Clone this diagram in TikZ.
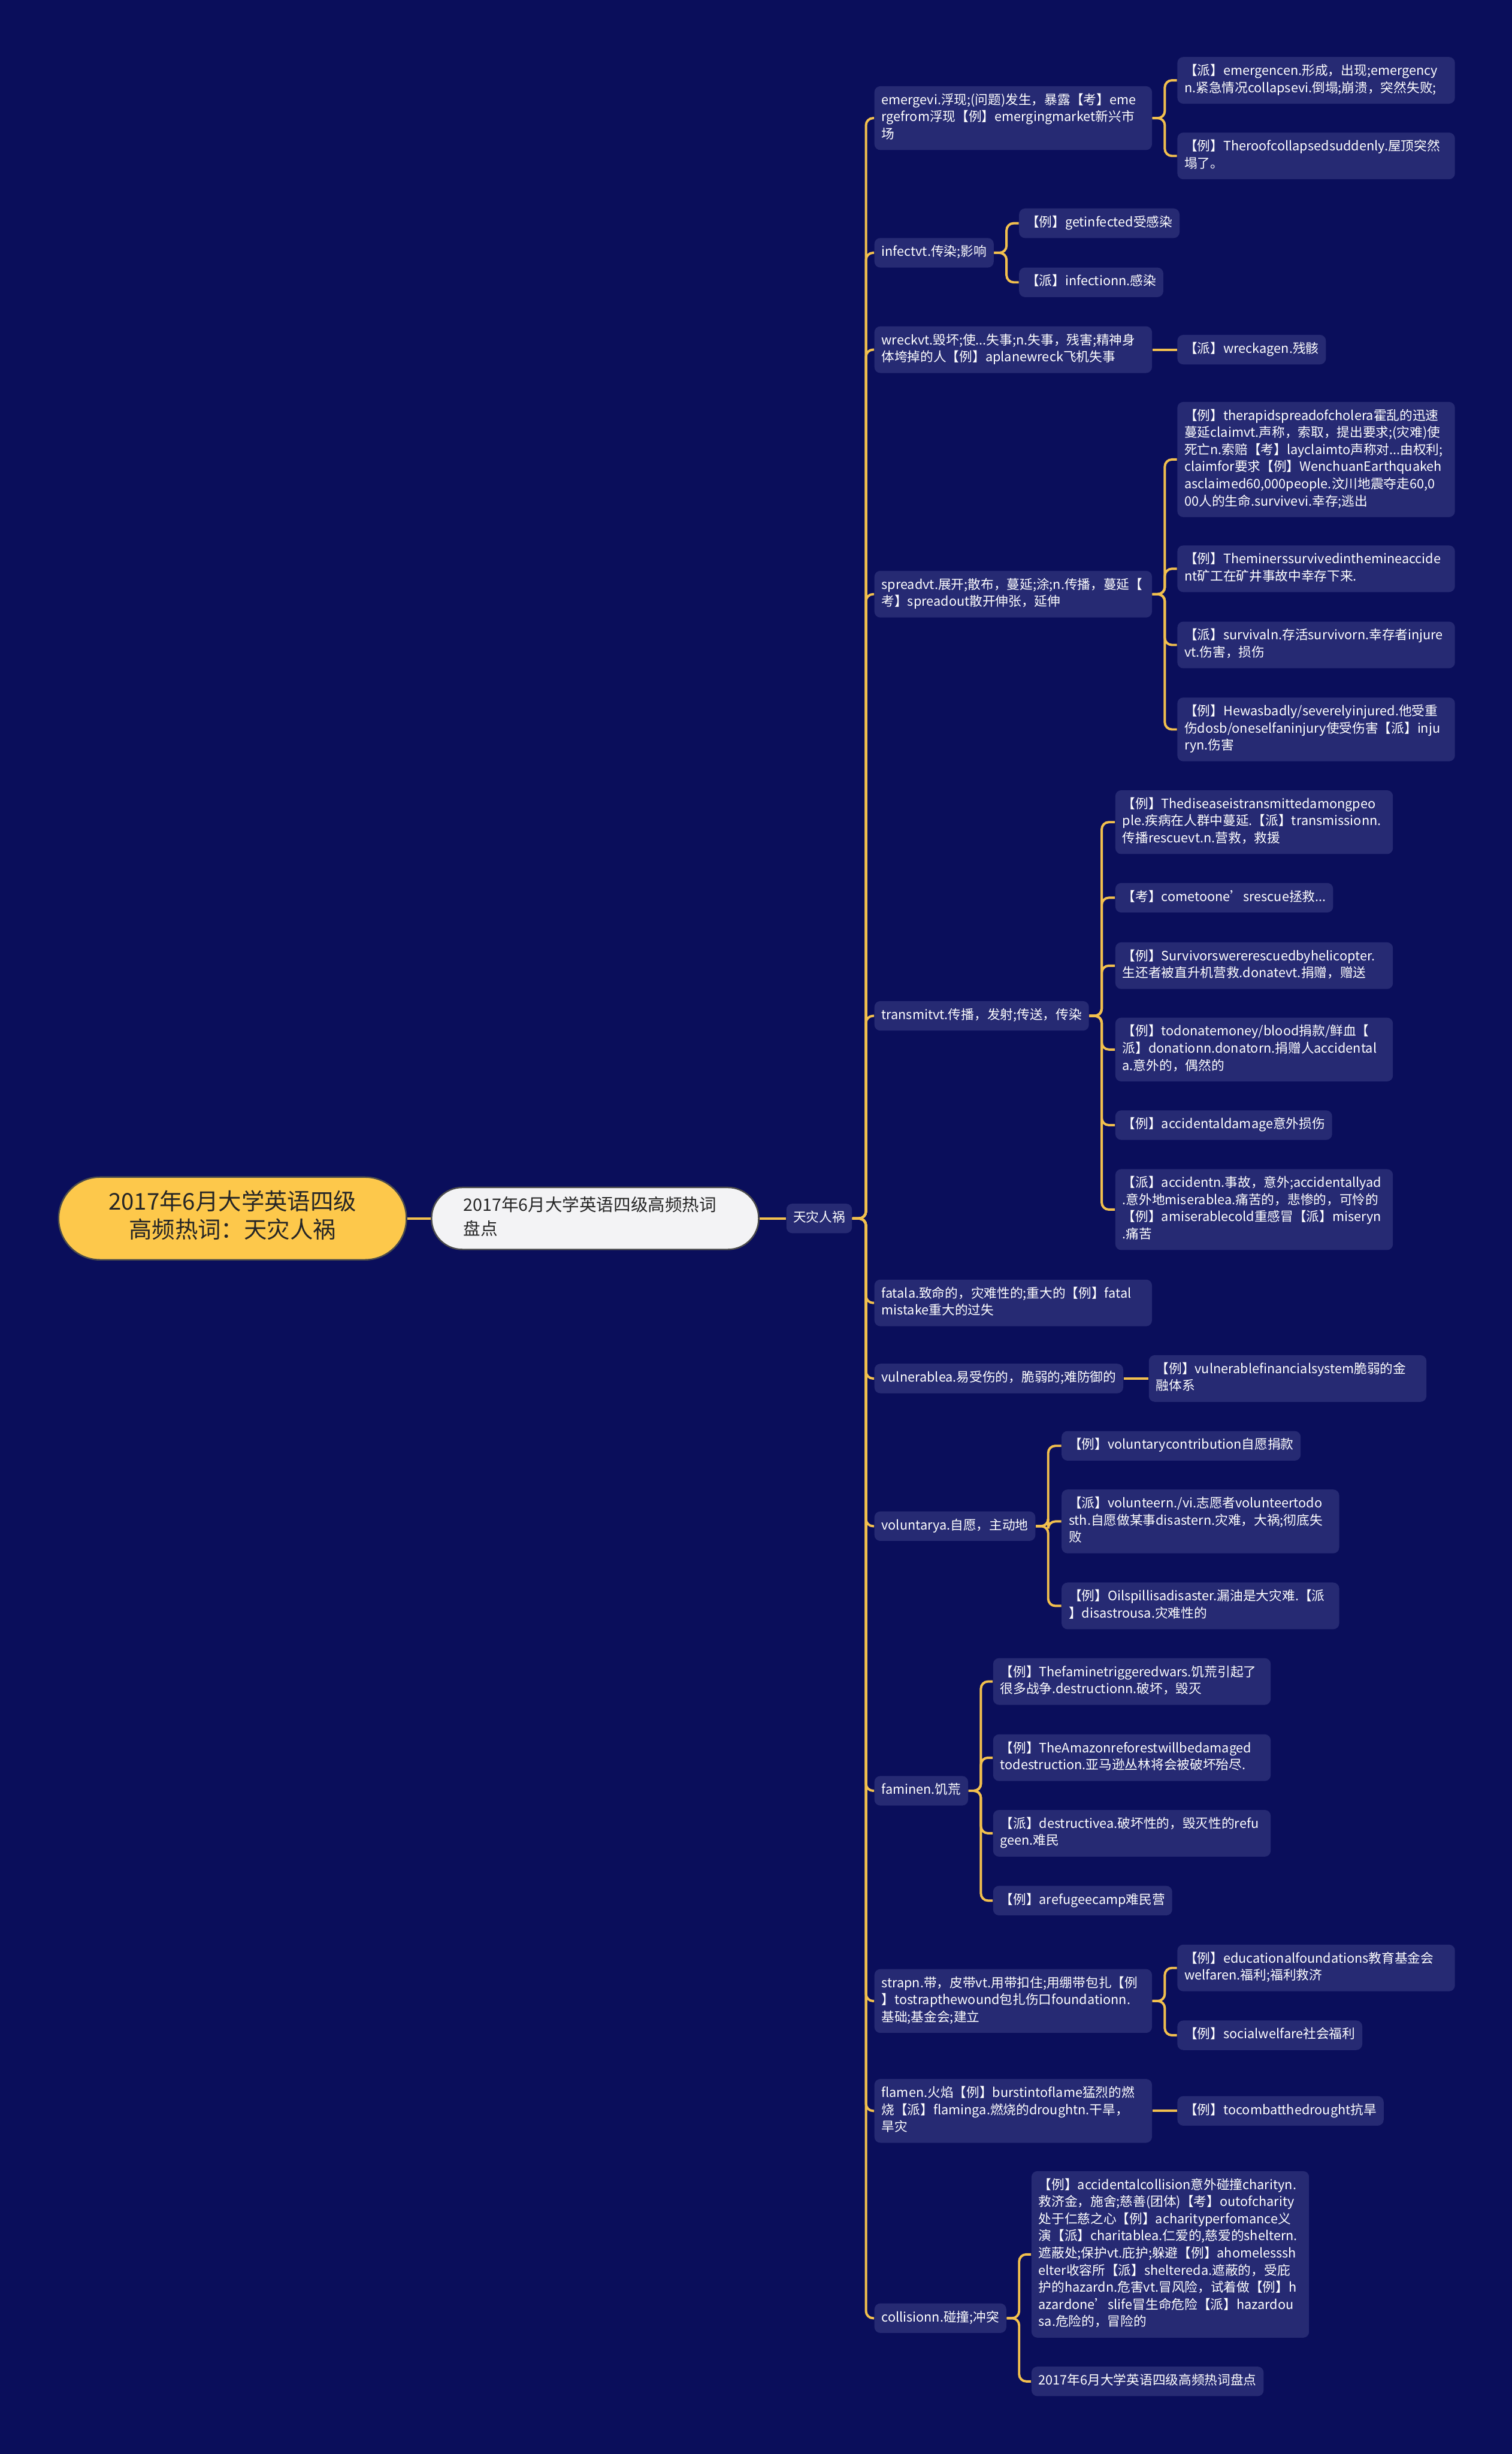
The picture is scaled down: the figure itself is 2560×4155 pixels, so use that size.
\documentclass[tikz,border=0pt]{standalone}
\usepackage{fontspec}
\setmainfont{Noto Sans CJK SC}
\usetikzlibrary{positioning}
\definecolor{bgnavy}{HTML}{0A0E5B}
\definecolor{boxnavy}{HTML}{262A73}
\definecolor{gold}{HTML}{F2C04E}
\definecolor{rootgold}{HTML}{FDC84B}
\definecolor{leadgray}{HTML}{F3F3F5}
\hyphenpenalty=10000
\exhyphenpenalty=10000

\begin{document}
\begin{tikzpicture}[x=0.1mm, y=-0.1mm, node distance={4mm},
    link/.style = {draw=gold, line width=0.4mm, rounded corners=1.2mm},
    main/.style = {anchor=west, execute at begin node=\strut, execute at end node=\strut},
    root/.style = {main, fill=rootgold, draw=black!70, line width=0.25mm, rounded corners=7mm, text=black!85, text width=45mm, align=center, inner xsep=6.95mm, inner ysep=2.2mm, font=\fontsize{3.9mm}{4.8mm}\selectfont},
    lead/.style = {main, fill=leadgray, draw=black!70, line width=0.25mm, rounded corners=5.2mm, text=black!85, text width=44.6mm, align=left, inner xsep=5.4mm, inner ysep=1.25mm, font=\fontsize{2.9mm}{4mm}\selectfont},
    item/.style = {main, fill=boxnavy, rounded corners=1mm, text=white, inner xsep=1.2mm, inner ysep=1.05mm, font=\fontsize{2.2mm}{2.9mm}\selectfont},
    wide/.style = {item, text width=44.6mm, align=left},
    cat/.style = {item, minimum width=11.1mm, inner xsep=0.8mm}]
    \fill[bgnavy] (0,0) rectangle (2560,4155);
    \useasboundingbox (0,0) rectangle (2560,4155);

    \node[root] (root) at (98,2063) {2017年6月大学英语四级\\高频热词：天灾人祸};
    \node[lead] (lead) [right=4mm of root] {2017年6月大学英语四级高频热词\\盘点};
    \node[cat] (cat) [right=4.5mm of lead] {天灾人祸};

    \node[wide] (emerge) at (1480,200) {emergevi.浮现;(问题)发生，暴露【考】eme\\rgefrom浮现【例】emergingmarket新兴市\\场};
    \node[wide] (e1) at (1993,136) {【派】emergencen.形成，出现;emergency\\n.紧急情况collapsevi.倒塌;崩溃，突然失败;};
    \node[wide] (e2) at (1993,264) {【例】Theroofcollapsedsuddenly.屋顶突然\\塌了。};

    \node[item] (infect) at (1480,428) {infectvt.传染;影响};
    \node[item] (i1) at (1725,378) {【例】getinfected受感染};
    \node[item] (i2) at (1725,478) {【派】infectionn.感染};

    \node[wide] (wreck) at (1480,592) {wreckvt.毁坏;使...失事;n.失事，残害;精神身\\体垮掉的人【例】aplanewreck飞机失事};
    \node[item] (w1) at (1993,592) {【派】wreckagen.残骸};

    \node[wide] (spread) at (1480,1006) {spreadvt.展开;散布，蔓延;涂;n.传播，蔓延【\\考】spreadout散开伸张，延伸};
    \node[wide] (s1) at (1993,778) {【例】therapidspreadofcholera霍乱的迅速\\蔓延claimvt.声称，索取，提出要求;(灾难)使\\死亡n.索赔【考】layclaimto声称对...由权利;\\claimfor要求【例】WenchuanEarthquakeh\\asclaimed60,000people.汶川地震夺走60,0\\00人的生命.survivevi.幸存;逃出};
    \node[wide] (s2) at (1993,963) {【例】Theminerssurvivedinthemineaccide\\nt矿工在矿井事故中幸存下来.};
    \node[wide] (s3) at (1993,1092) {【派】survivaln.存活survivorn.幸存者injure\\vt.伤害，损伤};
    \node[wide] (s4) at (1993,1235) {【例】Hewasbadly/severelyinjured.他受重\\伤dosb/oneselfaninjury使受伤害【派】inju\\ryn.伤害};

    \node[item] (transmit) at (1480,1720) {transmitvt.传播，发射;传送，传染};
    \node[wide] (t1) at (1888,1392) {【例】Thediseaseistransmittedamongpeo\\ple.疾病在人群中蔓延.【派】transmissionn.\\传播rescuevt.n.营救，救援};
    \node[item] (t2) at (1888,1520) {【考】cometoone’srescue拯救...};
    \node[wide] (t3) at (1888,1635) {【例】Survivorswererescuedbyhelicopter.\\生还者被直升机营救.donatevt.捐赠，赠送};
    \node[wide] (t4) at (1888,1777) {【例】todonatemoney/blood捐款/鲜血【\\派】donationn.donatorn.捐赠人accidental\\a.意外的，偶然的};
    \node[item] (t5) at (1888,1905) {【例】accidentaldamage意外损伤};
    \node[wide] (t6) at (1888,2048) {【派】accidentn.事故，意外;accidentallyad\\.意外地miserablea.痛苦的，悲惨的，可怜的\\【例】amiserablecold重感冒【派】miseryn\\.痛苦};

    \node[wide] (fatal) at (1480,2206) {fatala.致命的，灾难性的;重大的【例】fatal\\mistake重大的过失};

    \node[item] (vulner) at (1480,2334) {vulnerablea.易受伤的，脆弱的;难防御的};
    \node[wide] (v1) [right=4.2mm of vulner] {【例】vulnerablefinancialsystem脆弱的金\\融体系};

    \node[item] (volunt) at (1480,2584) {voluntarya.自愿，主动地};
    \node[item] (u1) at (1797,2448) {【例】voluntarycontribution自愿捐款};
    \node[wide] (u2) at (1797,2576) {【派】volunteern./vi.志愿者volunteertodo\\sth.自愿做某事disastern.灾难，大祸;彻底失\\败};
    \node[wide] (u3) at (1797,2719) {【例】Oilspillisadisaster.漏油是大灾难.【派\\】disastrousa.灾难性的};

    \node[item] (famine) at (1480,3032) {faminen.饥荒};
    \node[wide] (f1) at (1681,2847) {【例】Thefaminetriggeredwars.饥荒引起了\\很多战争.destructionn.破坏，毁灭};
    \node[wide] (f2) at (1681,2976) {【例】TheAmazonreforestwillbedamaged\\todestruction.亚马逊丛林将会被破坏殆尽.};
    \node[wide] (f3) at (1681,3104) {【派】destructivea.破坏性的，毁灭性的refu\\geen.难民};
    \node[item] (f4) at (1681,3218) {【例】arefugeecamp难民营};

    \node[wide] (strap) at (1480,3388) {strapn.带，皮带vt.用带扣住;用绷带包扎【例\\】tostrapthewound包扎伤口foundationn.\\基础;基金会;建立};
    \node[wide] (p1) at (1993,3332) {【例】educationalfoundations教育基金会\\welfaren.福利;福利救济};
    \node[item] (p2) at (1993,3446) {【例】socialwelfare社会福利};

    \node[wide] (flame) at (1480,3574) {flamen.火焰【例】burstintoflame猛烈的燃\\烧【派】flaminga.燃烧的droughtn.干旱，\\旱灾};
    \node[item] (m1) at (1993,3574) {【例】tocombatthedrought抗旱};

    \node[item] (collis) at (1480,3925) {collisionn.碰撞;冲突};
    \node[wide] (c1) at (1746,3817) {【例】accidentalcollision意外碰撞charityn.\\救济金，施舍;慈善(团体)【考】outofcharity\\处于仁慈之心【例】acharityperfomance义\\演【派】charitablea.仁爱的,慈爱的sheltern.\\遮蔽处;保护vt.庇护;躲避【例】ahomelesssh\\elter收容所【派】sheltereda.遮蔽的，受庇\\护的hazardn.危害vt.冒风险，试着做【例】h\\azardone’slife冒生命危险【派】hazardou\\sa.危险的，冒险的};
    \node[item] (c2) at (1746,4032) {2017年6月大学英语四级高频热词盘点};

    \draw[link] (root.east) -- (lead.west);
    \draw[link] (lead.east) -- (cat.west);
    \draw[link] (cat.east) -- ++(23,0) |- (emerge.west);
    \draw[link] (cat.east) -- ++(23,0) |- (infect.west);
    \draw[link] (cat.east) -- ++(23,0) |- (wreck.west);
    \draw[link] (cat.east) -- ++(23,0) |- (spread.west);
    \draw[link] (cat.east) -- ++(23,0) |- (transmit.west);
    \draw[link] (cat.east) -- ++(23,0) |- (fatal.west);
    \draw[link] (cat.east) -- ++(23,0) |- (vulner.west);
    \draw[link] (cat.east) -- ++(23,0) |- (volunt.west);
    \draw[link] (cat.east) -- ++(23,0) |- (famine.west);
    \draw[link] (cat.east) -- ++(23,0) |- (strap.west);
    \draw[link] (cat.east) -- ++(23,0) |- (flame.west);
    \draw[link] (cat.east) -- ++(23,0) |- (collis.west);

    \draw[link] (emerge.east) -- ++(21,0) |- (e1.west);
    \draw[link] (emerge.east) -- ++(21,0) |- (e2.west);
    \draw[link] (infect.east) -- ++(21,0) |- (i1.west);
    \draw[link] (infect.east) -- ++(21,0) |- (i2.west);
    \draw[link] (wreck.east) -- (w1.west);
    \draw[link] (spread.east) -- ++(21,0) |- (s1.west);
    \draw[link] (spread.east) -- ++(21,0) |- (s2.west);
    \draw[link] (spread.east) -- ++(21,0) |- (s3.west);
    \draw[link] (spread.east) -- ++(21,0) |- (s4.west);
    \draw[link] (transmit.east) -- ++(21,0) |- (t1.west);
    \draw[link] (transmit.east) -- ++(21,0) |- (t2.west);
    \draw[link] (transmit.east) -- ++(21,0) |- (t3.west);
    \draw[link] (transmit.east) -- ++(21,0) |- (t4.west);
    \draw[link] (transmit.east) -- ++(21,0) |- (t5.west);
    \draw[link] (transmit.east) -- ++(21,0) |- (t6.west);
    \draw[link] (vulner.east) -- (v1.west);
    \draw[link] (volunt.east) -- ++(21,0) |- (u1.west);
    \draw[link] (volunt.east) -- ++(21,0) |- (u2.west);
    \draw[link] (volunt.east) -- ++(21,0) |- (u3.west);
    \draw[link] (famine.east) -- ++(21,0) |- (f1.west);
    \draw[link] (famine.east) -- ++(21,0) |- (f2.west);
    \draw[link] (famine.east) -- ++(21,0) |- (f3.west);
    \draw[link] (famine.east) -- ++(21,0) |- (f4.west);
    \draw[link] (strap.east) -- ++(21,0) |- (p1.west);
    \draw[link] (strap.east) -- ++(21,0) |- (p2.west);
    \draw[link] (flame.east) -- (m1.west);
    \draw[link] (collis.east) -- ++(21,0) |- (c1.west);
    \draw[link] (collis.east) -- ++(21,0) |- (c2.west);
\end{tikzpicture}
\end{document}
